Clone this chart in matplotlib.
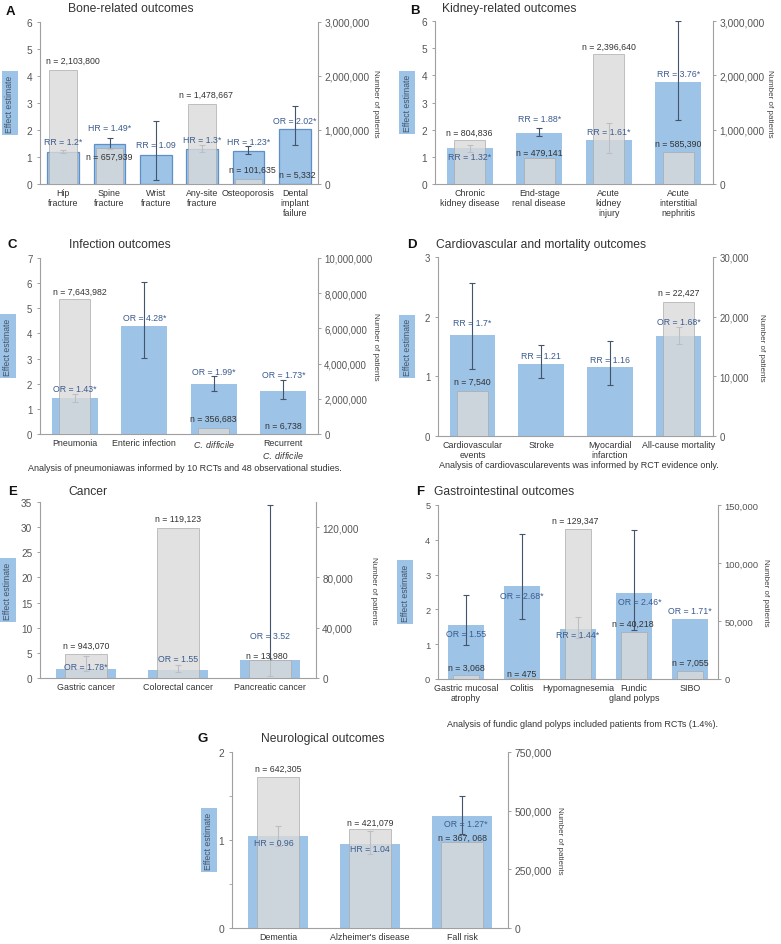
import numpy as np
import matplotlib
matplotlib.use("Agg")
import matplotlib.pyplot as plt
from matplotlib.ticker import FuncFormatter, MultipleLocator

plt.rcParams['font.family'] = ['Liberation Sans', 'DejaVu Sans']
plt.rcParams['mathtext.fontset'] = 'custom'
plt.rcParams['mathtext.rm'] = 'Liberation Sans'
plt.rcParams['mathtext.it'] = 'Liberation Sans:italic'

# ---- A: bone-related outcomes
bone_cats = ["Hip\nfracture", "Spine\nfracture", "Wrist\nfracture", "Any-site\nfracture",
             "Osteoporosis", "Dental\nimplant\nfailure"]
bone_eff = [1.2, 1.49, 1.09, 1.3, 1.23, 2.02]
bone_lo = [1.15, 1.31, 0.16, 1.19, 1.11, 1.44]
bone_hi = [1.26, 1.69, 2.34, 1.45, 1.42, 2.90]
bone_n = [2103800, 657939, 0, 1478667, 101635, 5332]
bone_eff_lab = ["RR = 1.2*", "HR = 1.49*", "RR = 1.09", "HR = 1.3*", "HR = 1.23*", "OR = 2.02*"]
bone_n_lab = ["n = 2,103,800", "n = 657,939", "", "n = 1,478,667", "n = 101,635", "n = 5,332"]

# ---- B: kidney-related outcomes
kid_cats = ["Chronic\nkidney disease", "End-stage\nrenal disease", "Acute\nkidney\ninjury",
            "Acute\ninterstitial\nnephritis"]
kid_eff = [1.32, 1.88, 1.61, 3.76]
kid_lo = [1.17, 1.75, 1.15, 2.36]
kid_hi = [1.45, 2.07, 2.24, 6.0]
kid_n = [804836, 479141, 2396640, 585390]
kid_eff_lab = ["RR = 1.32*", "RR = 1.88*", "RR = 1.61*", "RR = 3.76*"]
kid_n_lab = ["n = 804,836", "n = 479,141", "n = 2,396,640", "n = 585,390"]

# ---- C: infection outcomes
inf_cats = ["Pneumonia", "Enteric infection", "$\\it{C.\\ difficile}$", "Recurrent\n$\\it{C.\\ difficile}$"]
inf_eff = [1.43, 4.28, 1.99, 1.73]
inf_lo = [1.28, 3.01, 1.70, 1.38]
inf_hi = [1.60, 6.06, 2.29, 2.14]
inf_n = [7643982, 0, 356683, 6738]
inf_eff_lab = ["OR = 1.43*", "OR = 4.28*", "OR = 1.99*", "OR = 1.73*"]
inf_n_lab = ["n = 7,643,982", "", "n = 356,683", "n = 6,738"]

# ---- D: cardiovascular and mortality outcomes
cv_cats = ["Cardiovascular\nevents", "Stroke", "Myocardial\ninfarction", "All-cause mortality"]
cv_eff = [1.7, 1.21, 1.16, 1.68]
cv_lo = [1.13, 0.98, 0.85, 1.54]
cv_hi = [2.56, 1.53, 1.60, 1.83]
cv_n = [7540, 0, 0, 22427]
cv_eff_lab = ["RR = 1.7*", "RR = 1.21", "RR = 1.16", "OR = 1.68*"]
cv_n_lab = ["n = 7,540", "", "", "n = 22,427"]

# ---- E: cancer
ca_cats = ["Gastric cancer", "Colorectal cancer", "Pancreatic cancer"]
ca_eff = [1.78, 1.55, 3.52]
ca_lo = [1.4, 1.1, 0.36]
ca_hi = [4.4, 2.6, 34.4]
ca_n = [18800, 119123, 13980]   # gastric grey bar is drawn at ~18,800 in the source
ca_eff_lab = ["OR = 1.78*", "OR = 1.55", "OR = 3.52"]
ca_n_lab = ["n = 943,070", "n = 119,123", "n = 13,980"]

# ---- F: gastrointestinal outcomes
gi_cats = ["Gastric mucosal\natrophy", "Colitis", "Hypomagnesemia", "Fundic\ngland polyps", "SIBO"]
gi_eff = [1.55, 2.68, 1.44, 2.46, 1.71]
gi_lo = [0.99, 1.72, 1.17, 1.41, np.nan]
gi_hi = [2.41, 4.17, 1.77, 4.28, np.nan]
gi_n = [3068, 475, 129347, 40218, 7055]
gi_eff_lab = ["OR = 1.55", "OR = 2.68*", "RR = 1.44*", "OR = 2.46*", "OR = 1.71*"]
gi_n_lab = ["n = 3,068", "n = 475", "n = 129,347", "n = 40,218", "n = 7,055"]

# ---- G: neurological outcomes
neu_cats = ["Dementia", "Alzheimer's disease", "Fall risk"]
neu_eff = [1.04, 0.96, 1.27]
neu_lo = [0.93, 0.84, 1.07]
neu_hi = [1.16, 1.10, 1.50]
neu_n = [642305, 421079, 367068]
neu_eff_lab = ["HR = 0.96", "HR = 1.04", "OR = 1.27*"]
neu_n_lab = ["n = 642,305", "n = 421,079", "n = 367, 068"]

W, H = 781, 945
BLUE = '#9dc3e6'
GREY = '#dadada'
GREY_EDGE = '#a8a8a8'
ERR = '#44546a'
EFF_COL = '#3b5b8f'
N_COL = '#333333'
SPINE = '#a0a0a0'
TICK_COL = '#555555'

fig = plt.figure(figsize=(W / 100, H / 100), dpi=100)


def fx(p):
    return p / W


def fy(p):
    return 1 - p / H


def draw_panel(box, cats, eff, lo, hi, n, eff_lab, n_lab, eff_y, n_y,
               ymax, ystep, nmax, nticks, letter, title, letter_xy, title_xy,
               eff_dx=None, n_dx=None, blue_w=0.66, grey_w=0.45, blue_edge='none',
               minor=None, ylab_dx=31, rlab_x=None, note=None, tick_fs=7.3):
    l, t, r, b = box
    ax = fig.add_axes([fx(l), fy(b), (r - l) / W, (b - t) / H])
    k = len(cats)
    x = np.arange(k)
    eff = np.array(eff, float)
    lo = np.array(lo, float)
    hi = np.array(hi, float)

    ax.bar(x, eff, width=blue_w, color=BLUE, edgecolor=blue_edge, linewidth=0.9, zorder=2)
    ok = ~np.isnan(lo)
    ax.errorbar(x[ok], eff[ok], yerr=[eff[ok] - lo[ok], hi[ok] - eff[ok]], fmt='none',
                ecolor=ERR, elinewidth=0.8, capsize=2.3, capthick=0.8, zorder=3)
    ax.set_xlim(-0.5, k - 0.5)
    ax.set_ylim(0, ymax)
    ax.yaxis.set_major_locator(MultipleLocator(ystep))
    if minor:
        ax.yaxis.set_minor_locator(MultipleLocator(minor))
        ax.tick_params(axis='y', which='minor', length=2, width=0.6, color=SPINE)
    ax.set_xticks(x)
    ax.set_xticklabels(cats, fontsize=6.4, color='#333333', linespacing=1.15)
    ax.tick_params(axis='x', length=0, pad=3)
    ax.tick_params(axis='y', length=2.5, width=0.7, color=SPINE, labelsize=tick_fs,
                   labelcolor=TICK_COL, pad=3)
    for s in ['top', 'right']:
        ax.spines[s].set_visible(False)
    for s in ['left', 'bottom']:
        ax.spines[s].set_color(SPINE)
        ax.spines[s].set_linewidth(0.8)

    ax2 = ax.twinx()
    ax2.bar(x, n, width=grey_w, color=GREY, edgecolor=GREY_EDGE, linewidth=0.6,
            alpha=0.8, zorder=2)
    ax2.set_ylim(0, nmax)
    ax2.set_yticks(nticks)
    ax2.yaxis.set_major_formatter(FuncFormatter(lambda v, _: f"{int(v):,}"))
    ax2.tick_params(axis='y', length=2.5, width=0.7, color=SPINE, labelsize=tick_fs,
                    labelcolor=TICK_COL, pad=2)
    for s in ['top', 'left', 'bottom']:
        ax2.spines[s].set_visible(False)
    ax2.spines['right'].set_color(SPINE)
    ax2.spines['right'].set_linewidth(0.8)

    if eff_dx is None:
        eff_dx = [0] * k
    if n_dx is None:
        n_dx = [0] * k
    for i in range(k):
        ax2.text(x[i] + eff_dx[i], eff_y[i], eff_lab[i], transform=ax.transData,
                 ha='center', va='center', fontsize=6.3, color=EFF_COL, zorder=5)
        if n_lab[i]:
            ax2.text(x[i] + n_dx[i], n_y[i], n_lab[i], transform=ax.transData,
                     ha='center', va='center', fontsize=6.3, color=N_COL, zorder=5)

    cy = (t + b) / 2
    fig.text(fx(l - ylab_dx), fy(cy), "Effect estimate", rotation=90, ha='center',
             va='center', fontsize=6.2, color='#44546a',
             bbox=dict(boxstyle='square,pad=0.35', fc=BLUE, ec='none'))
    fig.text(fx(rlab_x), fy(cy), "Number of patients", rotation=270, ha='center',
             va='center', fontsize=5.8, color='#444444')
    fig.text(fx(letter_xy[0]), fy(letter_xy[1]), letter, fontsize=9.5, fontweight='bold',
             ha='left', va='center', color='#111111')
    fig.text(fx(title_xy[0]), fy(title_xy[1]), title, fontsize=8.7, ha='left',
             va='center', color='#333333')
    if note:
        fig.text(fx(note[0]), fy(note[1]), note[2], fontsize=6.5, ha='left',
                 va='center', color='#333333')
    return ax, ax2


draw_panel((40, 23, 318, 185), bone_cats, bone_eff, bone_lo, bone_hi, bone_n,
           bone_eff_lab, bone_n_lab,
           [1.57, 2.10, 1.46, 1.64, 1.58, 2.37], [4.59, 1.03, 0, 3.33, 0.56, 0.37],
           6, 1, 3000000, [0, 1000000, 2000000, 3000000],
           "A", "Bone-related outcomes", (6, 12), (68, 9),
           n_dx=[0.2, 0, 0, 0.08, 0.08, 0.05], blue_w=0.68, grey_w=0.6,
           blue_edge='#5f8fc8', ylab_dx=30, rlab_x=376)

draw_panel((435, 22, 713, 185), kid_cats, kid_eff, kid_lo, kid_hi, kid_n,
           kid_eff_lab, kid_n_lab,
           [1.02, 2.42, 1.92, 4.08], [1.92, 1.17, 5.06, 1.51],
           6, 1, 3000000, [0, 1000000, 2000000, 3000000],
           "B", "Kidney-related outcomes", (410, 11), (442, 9),
           ylab_dx=28, rlab_x=770)

draw_panel((40, 259, 318, 435), inf_cats, inf_eff, inf_lo, inf_hi, inf_n,
           inf_eff_lab, inf_n_lab,
           [1.79, 4.64, 2.48, 2.35], [5.68, 0, 0.62, 0.36],
           7, 1, 10000000, [0, 2000000, 4000000, 6000000, 8000000, 10000000],
           "C", "Infection outcomes", (8, 245), (69, 245),
           n_dx=[0.07, 0, 0, 0], ylab_dx=32, rlab_x=376, tick_fs=6.9,
           note=(28, 469, "Analysis of pneumoniawas informed by 10 RCTs and 48 observational studies."))

draw_panel((438, 258, 713, 437), cv_cats, cv_eff, cv_lo, cv_hi, cv_n,
           cv_eff_lab, cv_n_lab,
           [1.91, 1.35, 1.29, 1.92], [0.92, 0, 0, 2.41],
           3, 1, 30000, [0, 10000, 20000, 30000],
           "D", "Cardiovascular and mortality outcomes", (407, 245), (436, 245),
           ylab_dx=31, rlab_x=761, tick_fs=6.9,
           note=(439, 466, "Analysis of cardiovascularevents was informed by RCT evidence only."))

draw_panel((40, 503, 316, 679), ca_cats, ca_eff, ca_lo, ca_hi, ca_n,
           ca_eff_lab, ca_n_lab,
           [2.32, 3.92, 8.41], [6.56, 31.8, 4.57],
           35, 5, 140000, [0, 40000, 80000, 120000],
           "E", "Cancer", (8, 492), (68, 492),
           n_dx=[0, 0, -0.03], ylab_dx=32, rlab_x=374, tick_fs=7.2)

draw_panel((438, 506, 718, 680), gi_cats, gi_eff, gi_lo, gi_hi, gi_n,
           gi_eff_lab, gi_n_lab,
           [1.31, 2.41, 1.29, 2.23, 1.96], [0.34, 0.17, 4.57, 1.6, 0.48],
           5, 1, 150000, [0, 50000, 100000, 150000],
           "F", "Gastrointestinal outcomes", (416, 492), (434, 492),
           eff_dx=[0, 0, 0, 0.1, 0], n_dx=[0, 0, -0.05, -0.03, 0], ylab_dx=33, rlab_x=765,
           tick_fs=6.7,
           note=(447, 725, "Analysis of fundic gland polyps included patients from RCTs (1.4%)."))

draw_panel((232, 753, 508, 929), neu_cats, neu_eff, neu_lo, neu_hi, neu_n,
           neu_eff_lab, neu_n_lab,
           [0.97, 0.90, 1.19], [1.81, 1.20, 1.03],
           2, 1, 750000, [0, 250000, 500000, 750000],
           "G", "Neurological outcomes", (197, 739), (261, 739),
           eff_dx=[-0.04, 0, 0.04], minor=0.5, ylab_dx=23, rlab_x=559, tick_fs=7.4)

fig.savefig("out.png", dpi=100)
